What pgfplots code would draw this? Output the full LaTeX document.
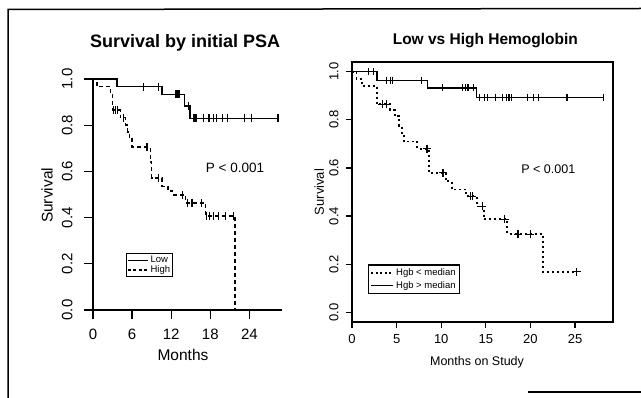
\documentclass[border=0pt]{standalone}
\usepackage{fontspec}
\setmainfont{Liberation Sans}
\usepackage{pgfplots}
\pgfplotsset{compat=1.18}
\begin{document}
\begin{tikzpicture}
\useasboundingbox (0pt,0pt) rectangle (641pt,-398pt);
\draw[line width=1.5pt] (8pt,-398pt) -- (8pt,-9.5pt) -- (641pt,-8.5pt);
\draw[line width=1.5pt] (528pt,-392pt) -- (641pt,-392pt);
% ---------------- left panel
\begin{axis}[
  at={(93pt,-310pt)}, anchor=south west,
  scale only axis, width=189pt, height=231pt,
  xmin=0, xmax=29, ymin=0, ymax=1,
  axis lines=left, axis line style={-, line width=1.4pt},
  xtick={0,6,12,18,24},
  ytick={0,0.2,0.4,0.6,0.8,1.0},
  yticklabels={0.0,0.2,0.4,0.6,0.8,1.0},
  tick align=outside, major tick length=9pt,
  tick style={line width=1.3pt, black},
  /pgf/number format/assume math mode=true,
  tick label style={font=\fontsize{15}{17}\selectfont},
  xticklabel style={yshift=-6pt},
  yticklabel style={xshift=-8pt, rotate=90, anchor=south},
  clip=false,
  title={Survival by initial PSA},
  title style={font=\bfseries\fontsize{18}{20}\selectfont, at={(axis description cs:0.487,1.13)}, anchor=center},
  xlabel={Months},
  xlabel style={font=\fontsize{15.5}{17}\selectfont, at={(axis description cs:0.476,-0.195)}, anchor=center},
  ylabel={Survival},
  ylabel style={font=\fontsize{15.5}{17}\selectfont, at={(axis description cs:-0.243,0.496)}, anchor=center},
  legend style={at={(rel axis cs:0.175,0.247)}, anchor=north west,
    font=\fontsize{9.5}{9.5}\selectfont, draw=black, line width=1.3pt,
    inner sep=0.5pt, row sep=-2.5pt, cells={anchor=west}},
  legend image code/.code={\draw[#1] (0pt,0pt) -- (20pt,0pt);},
]
\addlegendimage{black, line width=1pt}
\addlegendentry{Low}
\addlegendimage{black, line width=1.4pt, dash pattern=on 3pt off 2.5pt}
\addlegendentry{High}
% Low
\addplot[forget plot, black, line width=1.3pt, const plot] coordinates {
(0,1) (3.7,0.967) (10.6,0.934) (14.0,0.883) (14.9,0.83) (28.4,0.83)};
\addplot[forget plot, black, only marks, mark=|, mark size=4pt, mark options={line width=1.2pt}] coordinates {
(7.8,0.967) (10.0,0.967) (12.7,0.934) (12.9,0.934) (13.1,0.934) (13.3,0.934) (14.6,0.883)
(15.5,0.83) (15.7,0.83) (15.9,0.83) (17.0,0.83) (17.8,0.83) (18.5,0.83) (19.0,0.83) (19.9,0.83)
(20.6,0.83) (23.2,0.83) (24.3,0.83) (28.4,0.83)};
% High
\addplot[forget plot, black, line width=1.5pt, dash pattern=on 4pt off 3pt, const plot] coordinates {
(0,1) (0.6,0.967) (2.7,0.933) (3.0,0.866) (4.2,0.833) (5.0,0.80) (5.3,0.77) (5.6,0.74) (6.0,0.706)
(8.8,0.64) (9.0,0.571) (10.6,0.535) (11.5,0.515) (12.2,0.498) (14.2,0.463) (17.3,0.407) (21.8,0.0)};
\addplot[forget plot, black, only marks, mark=|, mark size=4pt, mark options={line width=1.2pt}] coordinates {
(3.1,0.866) (3.5,0.866) (3.7,0.866) (4.7,0.833) (8.3,0.706) (10.0,0.571) (13.7,0.498)
(14.5,0.463) (15.2,0.463) (16.7,0.463) (17.4,0.407) (17.9,0.407) (18.5,0.407) (19.2,0.407)
(20.3,0.407) (21.6,0.407)};
\node[font=\fontsize{13.5}{15}\selectfont] at (axis cs:21.8,0.615) {P < 0.001};
\end{axis}
% ---------------- right panel
\begin{axis}[
  at={(352pt,-322pt)}, anchor=south west,
  scale only axis, width=261pt, height=260pt,
  xmin=0, xmax=29.25, ymin=-0.04, ymax=1.04,
  axis line style={line width=1.7pt},
  xtick={0,5,10,15,20,25},
  ytick={0,0.2,0.4,0.6,0.8,1.0},
  yticklabels={0.0,0.2,0.4,0.6,0.8,1.0},
  xtick pos=bottom, ytick pos=left,
  tick align=outside, major tick length=6pt,
  tick style={line width=1.2pt, black},
  /pgf/number format/assume math mode=true,
  tick label style={font=\fontsize{13}{15}\selectfont},
  xticklabel style={yshift=-3pt},
  yticklabel style={xshift=-4pt, rotate=90, anchor=south},
  clip=false,
  title={Low vs High Hemoglobin},
  title style={font=\bfseries\fontsize{15.5}{17}\selectfont, at={(axis description cs:0.511,1.058)}, anchor=center},
  xlabel={Months on Study},
  xlabel style={font=\fontsize{12.5}{14}\selectfont, at={(axis description cs:0.479,-0.154)}, anchor=center},
  ylabel={Survival},
  ylabel style={font=\fontsize{13}{14}\selectfont, at={(axis description cs:-0.126,0.5)}, anchor=center},
  legend style={at={(rel axis cs:0.061,0.223)}, anchor=north west,
    font=\fontsize{9.5}{10}\selectfont, draw=black, line width=1.5pt,
    inner sep=2pt, row sep=0pt, cells={anchor=west}},
  legend image code/.code={\draw[#1] (0pt,0pt) -- (22pt,0pt);},
]
\addlegendimage{black, line width=1.5pt, dash pattern=on 2pt off 2.5pt}
\addlegendentry{Hgb < median}
\addlegendimage{black, line width=0.8pt}
\addlegendentry{Hgb > median}
% High Hgb (solid)
\addplot[forget plot, black, line width=1.1pt, const plot] coordinates {
(0,1) (2.8,0.965) (8.5,0.932) (14.0,0.894) (28.2,0.894)};
\addplot[forget plot, black, only marks, mark=|, mark size=3.5pt, mark options={line width=1.1pt}] coordinates {
(1.8,1) (2.4,1) (3.9,0.965) (4.3,0.965) (4.5,0.965) (7.8,0.965) (10.1,0.932) (12.4,0.932)
(12.7,0.932) (13.0,0.932) (13.6,0.932) (14.3,0.894) (14.8,0.894) (15.2,0.894) (16.1,0.894)
(16.9,0.894) (17.3,0.894) (17.6,0.894) (17.9,0.894) (19.7,0.894) (20.3,0.894) (20.9,0.894)
(24.1,0.894) (28.2,0.894)};
% Low Hgb (dotted)
\addplot[forget plot, black, line width=1.8pt, dash pattern=on 2pt off 3pt, const plot] coordinates {
(0,1) (0.5,0.97) (1.1,0.94) (2.8,0.864) (4.3,0.84) (4.8,0.815) (5.3,0.775) (5.6,0.74) (5.8,0.71)
(7.3,0.68) (8.6,0.58) (10.5,0.545) (11.2,0.51) (12.8,0.482) (14.0,0.44) (14.8,0.387) (17.4,0.325)
(21.4,0.169) (25.2,0.169)};
\addplot[forget plot, black, only marks, mark=+, mark size=4pt, mark options={line width=1.1pt}] coordinates {
(3.4,0.864) (3.9,0.864) (8.4,0.68) (10.2,0.58) (13.3,0.482) (13.5,0.482) (14.6,0.44)
(17.1,0.387) (18.6,0.325) (20.0,0.325) (25.2,0.169)};
\node[font=\fontsize{12.5}{14}\selectfont] at (axis cs:22.0,0.594) {P < 0.001};
\end{axis}
\end{tikzpicture}
\end{document}
